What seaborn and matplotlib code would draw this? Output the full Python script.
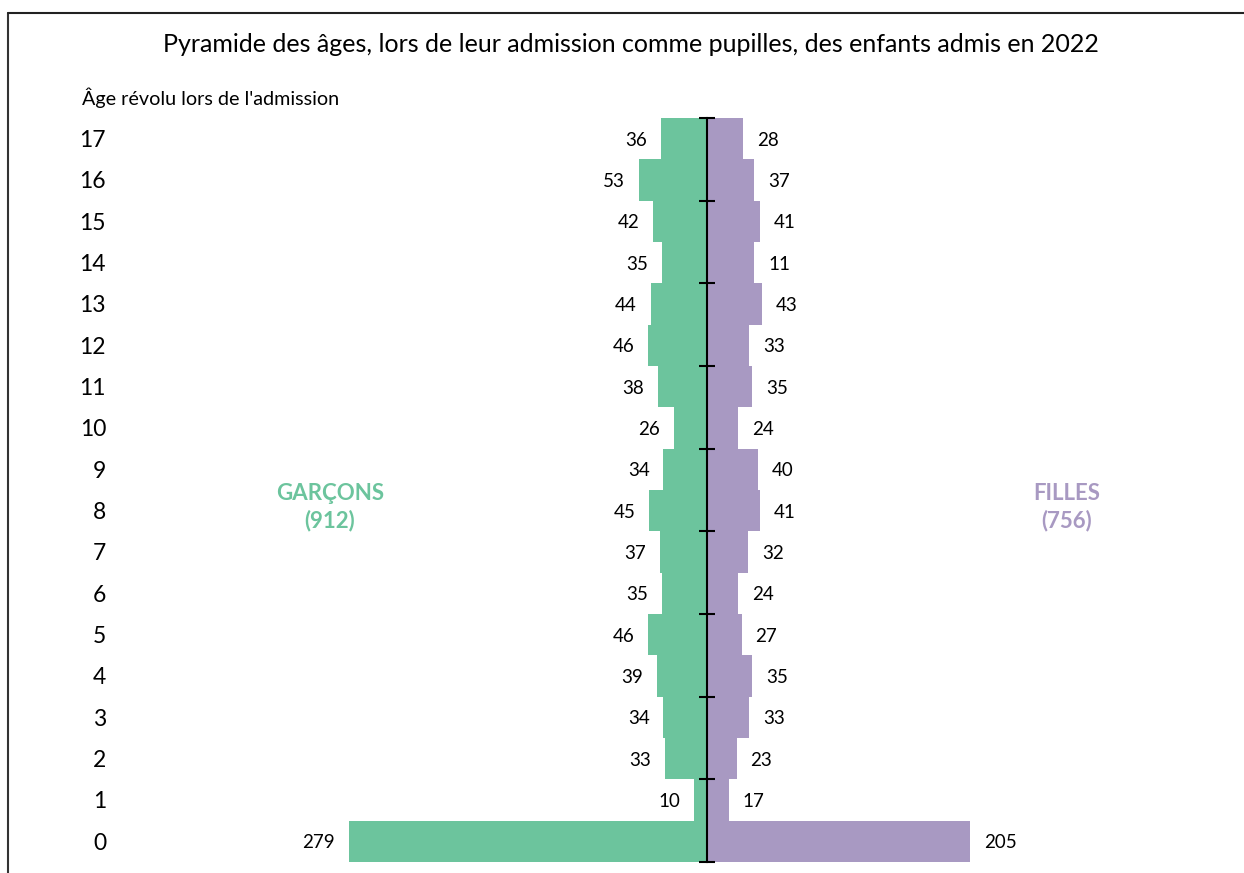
import pandas as pd
import numpy as np
import matplotlib
matplotlib.use("Agg")
import matplotlib.pyplot as plt
import matplotlib.transforms as mtransforms
from matplotlib.lines import Line2D
import seaborn as sns

# Données (âge 17 -> 0)
ages = [str(a) for a in range(17, -1, -1)]
garcons = [36, 53, 42, 35, 44, 46, 38, 26, 34, 45, 37, 35, 46, 39, 34, 33, 10, 279]
# longueur des barres filles (la barre de 14 ans mesure ~37 alors que l'étiquette indique 11)
filles = [28, 37, 41, 37, 43, 33, 35, 24, 40, 41, 32, 24, 27, 35, 33, 23, 17, 205]
etiquettes_filles = [28, 37, 41, 11, 43, 33, 35, 24, 40, 41, 32, 24, 27, 35, 33, 23, 17, 205]
total_garcons = 912
total_filles = 756

vert = "#6CC49D"
violet = "#A899C2"

sns.set_theme(style="white")
plt.rcParams["font.family"] = ["Lato", "DejaVu Sans"]
plt.rcParams["text.color"] = "black"

df = pd.DataFrame({
    "age": ages * 2,
    "valeur": [-v for v in garcons] + filles,
    "sexe": ["Garçons"] * len(ages) + ["Filles"] * len(ages),
})

fig = plt.figure(figsize=(12.44, 8.73), dpi=100)
ax = fig.add_axes([0, 0, 1, 1])

sns.barplot(data=df, x="valeur", y="age", hue="sexe", order=ages,
            palette={"Garçons": vert, "Filles": violet}, orient="h", saturation=1,
            dodge=False, width=1.0, linewidth=0, legend=False, ax=ax)

# échelle : 0 au pixel 707, 1.283 px par enfant
px = 1.283
ax.set_xlim(-707 / px, (1244 - 707) / px)
row = 744 / 18
ax.set_ylim((873 - 118) / row - 0.5, -0.5 - 118 / row)

# étiquettes des valeurs
for cont, vals in zip(ax.containers, [garcons, etiquettes_filles]):
    txts = ax.bar_label(cont, labels=[str(v) for v in vals], padding=10, fontsize=13.5, color="black")
    for t in txts:
        t.set_va("center_baseline")

# axe central avec graduations toutes les deux classes
for s in ["top", "right", "bottom"]:
    ax.spines[s].set_visible(False)
ax.set_axisbelow(False)
ax.spines["left"].set_position(("data", 0))
ax.spines["left"].set_bounds(-0.5, len(ages) - 0.5)
ax.spines["left"].set_color("black")
ax.spines["left"].set_linewidth(1.5)
ax.set_yticks(np.arange(-0.5, len(ages), 2))
ax.set_yticklabels([])
ax.tick_params(axis="y", left=True, direction="inout", length=11, width=1.5, color="black")
ax.set_xticks([])
ax.set_xlabel("")
ax.set_ylabel("")

# libellés des âges
trans = mtransforms.blended_transform_factory(fig.transFigure, ax.transData)
for i, a in enumerate(ages):
    ax.text(106 / 1244, i, a, transform=trans, ha="right", va="center_baseline", fontsize=16.5)

fig.text(82 / 1244, 1 - 98 / 873, "Âge révolu lors de l'admission", ha="left", va="center", fontsize=14.2)
fig.text(631 / 1244, 1 - 45 / 873,
         "Pyramide des âges, lors de leur admission comme pupilles, des enfants admis en 2022",
         ha="center", va="center", fontsize=18)

fig.text(330 / 1244, 1 - 507 / 873, f"GARÇONS\n({total_garcons})", color=vert, fontweight="bold",
         ha="center", va="center", fontsize=16, linespacing=1.35)
fig.text(1067 / 1244, 1 - 507 / 873, f"FILLES\n({total_filles})", color=violet, fontweight="bold",
         ha="center", va="center", fontsize=16, linespacing=1.35)

# cadre
fig.add_artist(Line2D([8 / 1244, 8 / 1244], [0, 1 - 13 / 873], color="#333333", lw=1.5))
fig.add_artist(Line2D([8 / 1244, 1], [1 - 13 / 873, 1 - 13 / 873], color="#222222", lw=1.5))

fig.savefig("out.png", dpi=100)
